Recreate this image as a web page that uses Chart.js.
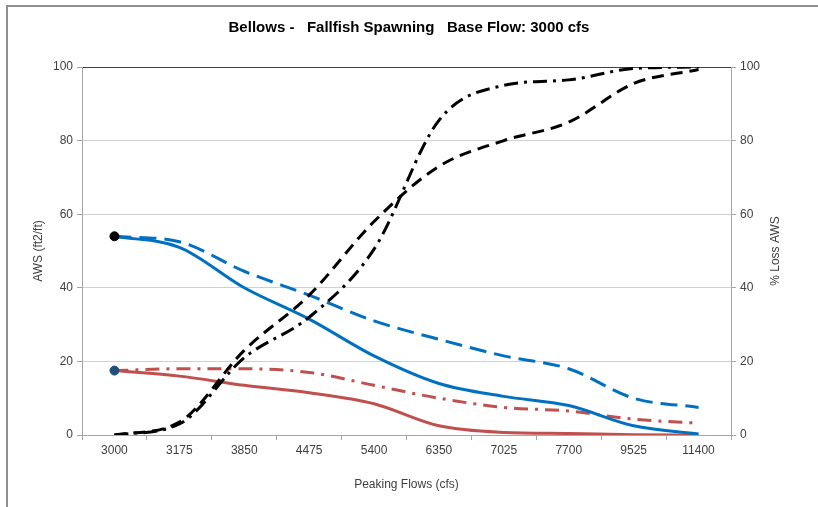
<!DOCTYPE html>
<html>
<head>
<meta charset="utf-8">
<script src="https://cdn.jsdelivr.net/npm/chart.js@4"></script>
<style>
    body { margin: 0; background: #ffffff; }
    #wrap { position: relative; width: 818px; height: 507px; }
    #frame { position: absolute; left: 6px; top: 5px; right: 0; bottom: 0; border-top: 2px solid #8f8f8f; border-left: 2px solid #8f8f8f; }
    #bellowsChart { position: absolute; left: 0; top: 0; }
</style>
</head>
<body>
<div id="wrap">
    <div id="frame"></div>
    <canvas id="bellowsChart" width="818" height="507"></canvas>
</div>
<script>
//Daten
const peakFlows = ['3000', '3175', '3850', '4475', '5400', '6350', '7025', '7700', '9525', '11400'];
const awsBlueSolid = [54, 51, 40, 31.5, 21.5, 14, 10.5, 8, 2.5, 0.3];
const awsBlueDashed = [54, 52.5, 44.5, 38, 31, 26, 21.5, 18, 10, 7.5];
const awsRedSolid = [17.5, 16, 13.5, 11.5, 8.5, 2.5, 0.7, 0.4, 0.1, 0];
const awsRedDashDot = [17.5, 18, 18, 17, 13.5, 10, 7.5, 6.5, 4.3, 3.2];
const lossDashed = [0, 3.5, 23, 38, 58, 73, 80, 85, 95.5, 99.3];
const lossDashDot = [0, 3, 21, 32, 50.5, 85.5, 95, 96.5, 99.6, 100];
const baseUpper = [54, null, null, null, null, null, null, null, null, null];
const baseLower = [17.5, null, null, null, null, null, null, null, null, null];
const yTicks = [0, 20, 40, 60, 80, 100];

const fontFamily = '"Liberation Sans", Arial, sans-serif';
const axisGray = '#a6a6a6';
const textGray = '#404040';

//rechter Achsentitel, wie im Original von unten nach oben gelesen
const rightTitle = {
    id: 'rightTitle',
    afterDraw(chart) {
        const ctx = chart.ctx;
        const area = chart.chartArea;
        ctx.save();
        ctx.translate(776, (area.top + area.bottom) / 2);
        ctx.rotate(-Math.PI / 2);
        ctx.font = '12px ' + fontFamily;
        ctx.fillStyle = textGray;
        ctx.textAlign = 'center';
        ctx.textBaseline = 'middle';
        ctx.fillText('% Loss AWS', 0, 0);
        ctx.restore();
    }
};

function lineSet(data, color, dash, axis, order) {
    return {
        data: data,
        borderColor: color,
        backgroundColor: color,
        borderWidth: 3,
        borderDash: dash,
        pointRadius: 0,
        cubicInterpolationMode: 'monotone',
        yAxisID: axis,
        order: order
    };
}

const chart = document.getElementById('bellowsChart');
let linechart = new Chart(chart, {
    type: 'line',
    data: {
        labels: peakFlows,
        datasets: [
            {
                data: baseUpper,
                showLine: false,
                pointRadius: 4.5,
                pointBackgroundColor: '#000000',
                pointBorderColor: '#000000',
                yAxisID: 'y',
                order: 0
            },
            {
                data: baseLower,
                showLine: false,
                pointRadius: 4.5,
                pointBackgroundColor: '#1f4e79',
                pointBorderColor: '#1f4e79',
                yAxisID: 'y',
                order: 0
            },
            lineSet(lossDashed, '#000000', [12, 7], 'y1', 1),
            lineSet(lossDashDot, '#000000', [14, 6, 3, 6], 'y1', 1),
            lineSet(awsBlueSolid, '#0070c0', [], 'y', 2),
            lineSet(awsBlueDashed, '#0070c0', [17, 8], 'y', 2),
            lineSet(awsRedSolid, '#c0504d', [], 'y', 3),
            lineSet(awsRedDashDot, '#c0504d', [14, 7, 3, 7], 'y', 3)
        ]
    },
    options: {
        responsive: false,
        animation: false,
        layout: { padding: 0 },
        plugins: {
            legend: { display: false },
            tooltip: { enabled: false },
            title: {
                display: true,
                text: 'Bellows -   Fallfish Spawning   Base Flow: 3000 cfs',
                color: '#000000',
                font: { family: fontFamily, size: 15, weight: 'bold' },
                padding: { top: 19, bottom: 30 }
            }
        },
        scales: {
            x: {
                offset: true,
                grid: {
                    offset: true,
                    drawOnChartArea: false,
                    tickLength: 5,
                    tickColor: axisGray
                },
                border: { color: axisGray },
                ticks: {
                    color: textGray,
                    font: { family: fontFamily, size: 12 },
                    maxRotation: 0,
                    autoSkip: false,
                    padding: 3
                },
                title: {
                    display: true,
                    text: 'Peaking Flows (cfs)',
                    color: textGray,
                    font: { family: fontFamily, size: 12 },
                    padding: { top: 0, bottom: 15 }
                },
                afterFit: function (scale) { scale.height = 72; }
            },
            y: {
                position: 'left',
                min: 0,
                max: 100,
                afterBuildTicks: function (scale) { scale.ticks = yTicks.map(v => ({ value: v })); },
                grid: {
                    color: function (c) { return c.tick && c.tick.value === 100 ? '#404040' : '#d0d0d0'; },
                    tickColor: axisGray,
                    tickLength: 5
                },
                border: { color: axisGray },
                ticks: {
                    color: textGray,
                    font: { family: fontFamily, size: 12 },
                    padding: 4
                },
                title: {
                    display: true,
                    text: 'AWS (ft2/ft)',
                    color: textGray,
                    font: { family: fontFamily, size: 12 },
                    padding: { top: 31, bottom: 0 }
                },
                afterFit: function (scale) { scale.width = 82; }
            },
            y1: {
                position: 'right',
                min: 0,
                max: 100,
                afterBuildTicks: function (scale) { scale.ticks = yTicks.map(v => ({ value: v })); },
                grid: {
                    drawOnChartArea: false,
                    tickColor: axisGray,
                    tickLength: 5
                },
                border: { color: axisGray },
                ticks: {
                    color: textGray,
                    font: { family: fontFamily, size: 12 },
                    padding: 4
                },
                afterFit: function (scale) { scale.width = 87; }
            }
        }
    },
    plugins: [rightTitle]
});
</script>
</body>
</html>
